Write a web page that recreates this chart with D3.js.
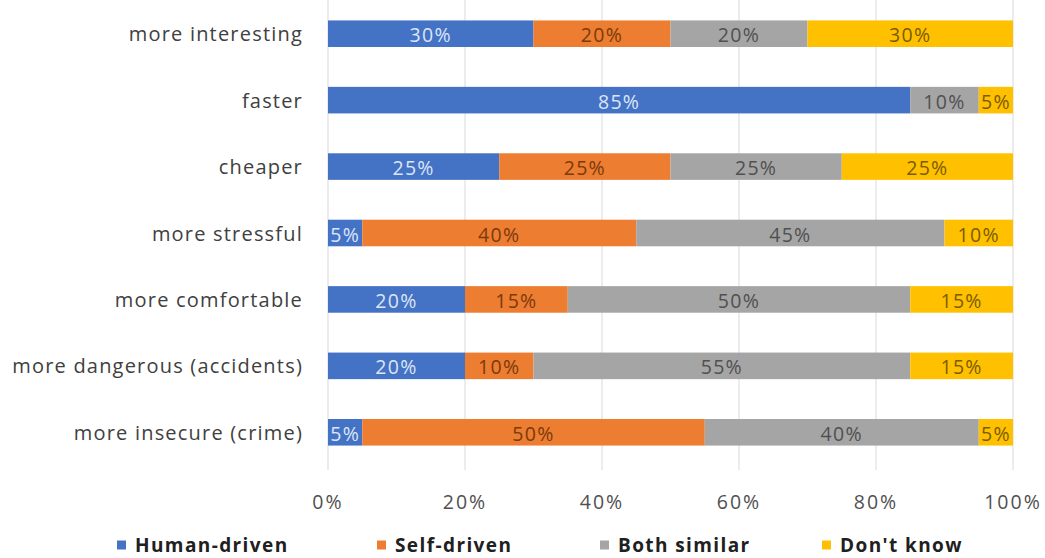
<!DOCTYPE html>
<html><head><meta charset="utf-8">
<script src="https://cdn.jsdelivr.net/npm/d3@7"></script>
<style>body{margin:0;background:#fff}svg{display:block}text{font-family:"Open Sans",Lato,sans-serif}</style>
</head><body><div id="chart"></div>
<script>
const categories = ["more interesting","faster","cheaper","more stressful","more comfortable","more dangerous (accidents)","more insecure (crime)"];
const seriesNames = ["Human-driven","Self-driven","Both similar","Don't know"];
const humanDriven = [30,85,25,5,20,20,5];
const selfDriven  = [20,0,25,40,15,10,50];
const bothSimilar = [20,10,25,45,50,55,40];
const dontKnow    = [30,5,25,10,15,15,5];
const tickValues = [0,20,40,60,80,100];

const colors = ["#4472C4","#ED7D31","#A5A5A5","#FFC000"];
const labelColors = ["#dce6f6","#7a3a0c","#505050","#7a5c00"];
const W=1045,H=558;
const svg=d3.select("#chart").append("svg").attr("width",W).attr("height",H);
const x=d3.scaleLinear().domain([0,100]).range([328,1013]);
const y=d3.scaleBand().domain(categories).range([0.5,465.5]).paddingInner(0.6).paddingOuter(0.3);

svg.append("g").selectAll("line").data(tickValues).join("line")
  .attr("x1",d=>x(d)).attr("x2",d=>x(d)).attr("y1",0).attr("y2",470)
  .attr("stroke","#d9d9d9").attr("stroke-width",1);

const rows = categories.map((c,i)=>({cat:c,vals:[humanDriven[i],selfDriven[i],bothSimilar[i],dontKnow[i]]}));
const stack=d3.stack().keys([0,1,2,3]).value((d,k)=>d.vals[k]);
const stacked=stack(rows);
stacked.forEach((layer,k)=>{
  const g=svg.append("g");
  g.selectAll("rect").data(layer).join("rect")
    .attr("x",d=>x(d[0])).attr("width",d=>x(d[1])-x(d[0]))
    .attr("y",d=>y(d.data.cat)).attr("height",y.bandwidth())
    .attr("fill",colors[k]);
  g.selectAll("text").data(layer.filter(d=>d[1]-d[0]>0)).join("text")
    .attr("x",d=>(x(d[0])+x(d[1]))/2).attr("y",d=>y(d.data.cat)+y.bandwidth()/2+1)
    .attr("text-anchor","middle").attr("dominant-baseline","central")
    .attr("font-size",19.5).attr("letter-spacing",1.3).attr("fill",labelColors[k])
    .text(d=>(d[1]-d[0])+"%");
});

svg.append("g").selectAll("text").data(categories).join("text")
  .attr("x",303).attr("y",d=>y(d)+y.bandwidth()/2)
  .attr("text-anchor","end").attr("dominant-baseline","central")
  .attr("font-size",20).attr("letter-spacing",1.2).attr("fill","#404040").text(d=>d);

svg.append("g").selectAll("text").data(tickValues).join("text")
  .attr("x",d=>x(d)).attr("y",501).attr("text-anchor","middle").attr("dominant-baseline","central")
  .attr("font-size",19.5).attr("letter-spacing",2).attr("fill","#505050").text(d=>d+"%");

const legX=[117,377,600,822];
const lg=svg.append("g").selectAll("g").data(seriesNames).join("g")
  .attr("transform",(d,i)=>`translate(${legX[i]},545)`);
lg.append("rect").attr("x",0).attr("y",-4.5).attr("width",9).attr("height",9).attr("fill",(d,i)=>colors[i]);
lg.append("text").attr("x",18).attr("y",0).attr("dominant-baseline","central")
  .attr("font-size",19).attr("font-weight","bold").attr("letter-spacing",1.4).attr("fill","#202020").text(d=>d);
</script></body></html>
